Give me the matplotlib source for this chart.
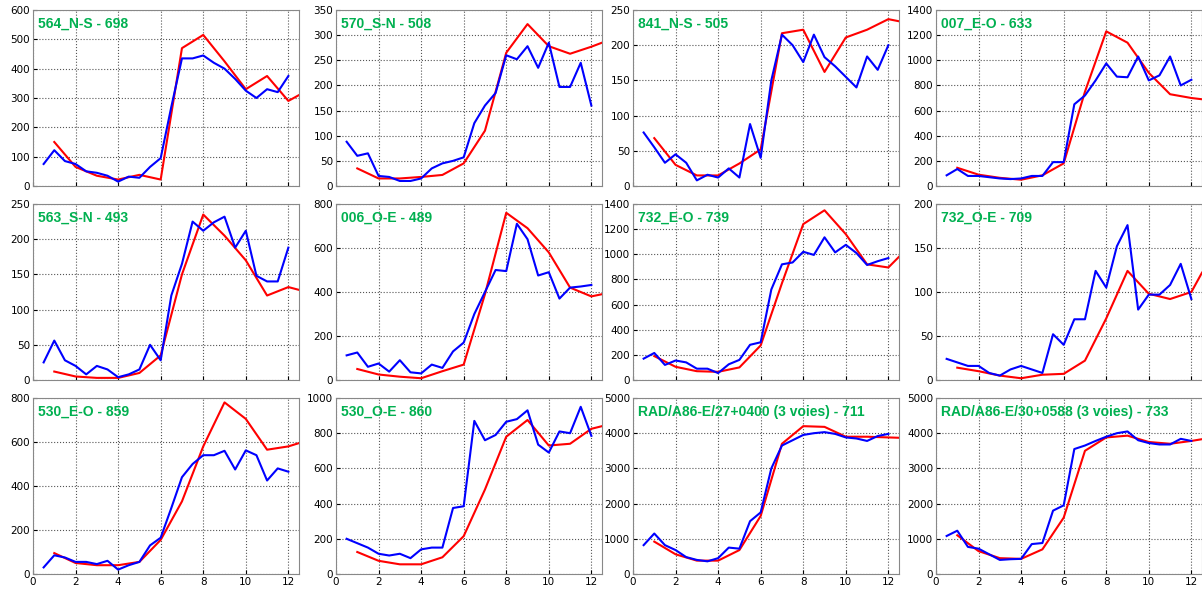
import matplotlib
matplotlib.use("Agg")
import matplotlib.pyplot as plt
import numpy as np

x_blue = [0.5*i for i in range(1, 25)]
x_red = [1, 2, 3, 4, 5, 6, 7, 8, 9, 10, 11, 12, 12.5]

titles = ["564_N-S - 698", "570_S-N - 508", "841_N-S - 505", "007_E-O - 633",
          "563_S-N - 493", "006_O-E - 489", "732_E-O - 739", "732_O-E - 709",
          "530_E-O - 859", "530_O-E - 860",
          "RAD/A86-E/27+0400 (3 voies) - 711", "RAD/A86-E/30+0588 (3 voies) - 733"]

blue_564 = [75,122,85,75,50,45,35,15,32,28,65,95,270,435,435,445,420,400,365,325,300,330,320,375]
red_564 = [150,65,35,22,38,22,470,515,425,330,375,290,310]
blue_570 = [88,60,65,20,18,10,10,15,35,45,50,57,125,160,185,260,252,278,235,285,197,197,245,160]
red_570 = [35,15,15,18,22,45,110,265,322,278,263,277,285]
blue_841 = [76,55,33,45,33,8,16,12,25,12,88,40,150,215,200,176,215,183,170,155,140,184,165,200]
red_841 = [68,30,15,15,32,52,217,222,162,211,222,237,234]
blue_007 = [85,135,80,80,70,60,55,60,80,80,190,190,650,720,840,975,870,865,1030,840,880,1030,800,845]
red_007 = [145,90,65,50,85,180,750,1230,1140,900,730,700,690]
blue_563 = [25,56,28,20,8,20,15,4,8,15,50,28,120,165,225,212,224,232,188,212,148,140,140,188]
red_563 = [12,5,3,3,10,35,150,235,205,170,120,132,128]
blue_006 = [112,125,60,75,38,90,35,30,70,55,130,170,300,400,500,495,710,640,475,490,370,420,425,432]
red_006 = [50,25,15,8,40,70,390,760,690,580,420,380,390]
blue_732EO = [170,215,120,155,140,90,90,55,125,160,280,300,720,920,935,1020,995,1135,1015,1075,1010,915,945,970]
red_732EO = [190,105,70,65,100,275,770,1240,1350,1160,920,895,980]
blue_732OE = [24,20,16,16,8,5,12,16,12,8,52,40,69,69,124,105,152,176,80,97,97,108,132,92]
red_732OE = [14,10,5,2,6,7,22,70,124,98,92,100,122]
blue_530EO = [30,85,75,55,55,45,60,20,40,55,130,165,300,440,500,540,540,560,475,562,540,425,480,465]
red_530EO = [95,50,40,40,55,155,330,580,780,705,565,580,595]
blue_530OE = [200,175,150,115,105,115,90,140,150,150,375,385,870,760,790,865,880,930,735,690,810,800,950,785]
red_530OE = [125,75,55,55,95,215,480,780,875,730,740,825,840]
blue_711 = [820,1150,820,680,480,400,360,450,750,720,1500,1750,3000,3650,3800,3950,4000,4030,3980,3880,3850,3780,3920,3980]
red_711 = [920,560,380,380,680,1650,3700,4200,4180,3900,3900,3880,3870]
blue_733 = [1080,1230,770,720,560,400,420,430,850,880,1800,1950,3550,3650,3780,3900,4000,4050,3800,3720,3680,3680,3840,3780]
red_733 = [1100,650,450,430,700,1600,3500,3880,3930,3750,3700,3780,3830]

blues = [blue_564, blue_570, blue_841, blue_007, blue_563, blue_006, blue_732EO,
         blue_732OE, blue_530EO, blue_530OE, blue_711, blue_733]
reds = [red_564, red_570, red_841, red_007, red_563, red_006, red_732EO,
        red_732OE, red_530EO, red_530OE, red_711, red_733]
ymax = [600, 350, 250, 1400, 250, 800, 1400, 200, 800, 1000, 5000, 5000]
ystep = [100, 50, 50, 200, 50, 200, 200, 50, 200, 200, 1000, 1000]

W, H = 1202, 589
fig = plt.figure(figsize=(W/100, H/100), dpi=100)
lefts = [33, 336, 633, 936]
tops = [10, 204, 398]
aw, ah = 266, 176
for i in range(12):
    r, c = divmod(i, 4)
    ax = fig.add_axes([lefts[c]/W, 1 - (tops[r]+ah)/H, aw/W, ah/H])
    ax.plot(x_red, reds[i], color="red", lw=1.5)
    ax.plot(x_blue, blues[i], color="blue", lw=1.5)
    ax.set_xlim(0, 12.5)
    ax.set_ylim(0, ymax[i])
    ax.set_xticks(range(0, 13, 2))
    ax.set_yticks(np.arange(0, ymax[i] + 1, ystep[i]))
    ax.grid(True, color="#555555", linestyle=":", linewidth=0.8)
    ax.tick_params(labelsize=7.5, length=3, direction="in", pad=2)
    if r < 2:
        ax.set_xticklabels([])
    ax.text(0.02, 0.96, titles[i], transform=ax.transAxes, ha="left", va="top",
            color="#00b050", fontsize=10, fontweight="bold", family="Liberation Sans")
    for s in ax.spines.values():
        s.set_color("#888888")

fig.savefig("out.png", dpi=100)
